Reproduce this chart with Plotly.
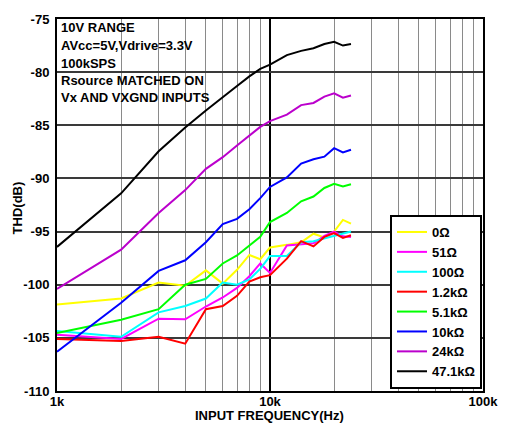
import plotly.graph_objects as go

freqs = [1000, 2000, 3000, 4000, 5000, 6000, 7000, 8000, 9000, 10000,
         12000, 14000, 16000, 18000, 20000, 22000, 24000]

thd_0 = [-101.85, -101.3, -99.8, -100.1, -98.65, -99.9, -98.6, -97.2, -97.6, -96.5,
         -96.25, -96.0, -95.2, -95.55, -95.0, -93.9, -94.25]
thd_51 = [-104.7, -105.1, -103.2, -103.25, -102.05, -101.2, -100.3, -99.2, -98.0, -98.9,
          -96.3, -96.2, -96.1, -95.4, -95.0, -95.45, -95.5]
thd_100 = [-104.35, -104.9, -102.6, -102.0, -101.3, -99.8, -100.0, -99.5, -98.5, -97.3,
           -97.3, -96.0, -95.9, -95.65, -95.4, -95.2, -95.0]
thd_1k2 = [-105.1, -105.3, -104.9, -105.55, -102.3, -102.0, -101.05, -99.7, -99.3, -99.1,
           -97.55, -95.9, -96.4, -95.5, -95.15, -95.6, -95.35]
thd_5k1 = [-104.55, -103.3, -102.3, -100.0, -99.45, -98.0, -97.25, -96.3, -95.5, -94.1,
           -93.25, -92.15, -91.7, -90.9, -90.5, -90.75, -90.55]
thd_10k = [-106.3, -101.7, -98.7, -97.7, -96.0, -94.3, -93.8, -92.9, -91.85, -90.8,
           -89.9, -88.6, -88.2, -87.95, -87.15, -87.55, -87.3]
thd_24k = [-100.4, -96.7, -93.25, -91.1, -89.1, -88.0, -86.9, -86.0, -85.15, -84.6,
           -84.0, -83.1, -82.9, -82.3, -82.0, -82.4, -82.2]
thd_47k = [-96.44, -91.4, -87.45, -85.2, -83.6, -82.4, -81.3, -80.4, -79.7, -79.3,
           -78.4, -78.0, -77.75, -77.35, -77.15, -77.5, -77.35]

series_names = ["0Ω", "51Ω", "100Ω", "1.2kΩ", "5.1kΩ", "10kΩ", "24kΩ", "47.1kΩ"]
series_values = [thd_0, thd_51, thd_100, thd_1k2, thd_5k1, thd_10k, thd_24k, thd_47k]
series_colors = ["#FFFF00", "#FF00FF", "#00FFFF", "#FF0000", "#00FF00", "#0000FF",
                 "#BB00CC", "#000000"]

x_tick_vals = [1000, 10000, 100000]
x_tick_text = ["1k", "10k", "100k"]
x_minor_vals = [2000, 3000, 4000, 5000, 6000, 7000, 8000, 9000,
                20000, 30000, 40000, 50000, 60000, 70000, 80000, 90000]
y_tick_vals = [-110, -105, -100, -95, -90, -85, -80, -75]
y_tick_text = ["-110", "-105", "-100", "-95", "-90", "-85", "-80", "-75"]

notes = ["10V RANGE", "AVcc=5V,Vdrive=3.3V", "100kSPS",
         "Rsource MATCHED ON", "Vx AND VXGND INPUTS"]

FONT = "Liberation Sans, Arial, sans-serif"

def bold(s):
    return "<b>" + s + "</b>"

fig = go.Figure()
for name, vals, col in zip(series_names, series_values, series_colors):
    fig.add_trace(go.Scatter(x=freqs, y=vals, mode="lines", name=bold(name),
                             line=dict(color=col, width=2)))

W, H = 510, 423
L, R, T, B = 57, 17, 16, 32
pw, ph = W - L - R, H - T - B

def px_to_paper_x(px):
    return (px - L) / pw

def px_to_paper_y(py):
    return (H - B - py) / ph

fig.update_layout(
    width=W, height=H,
    margin=dict(l=L, r=R, t=T, b=B),
    paper_bgcolor="white", plot_bgcolor="white",
    font=dict(family=FONT, size=13, color="black"),
    showlegend=True,
    legend=dict(x=px_to_paper_x(492), y=px_to_paper_y(389), xanchor="right", yanchor="bottom",
                bgcolor="white", bordercolor="black", borderwidth=2,
                font=dict(family=FONT, size=13, color="black"),
                itemwidth=30, tracegroupgap=0),
)

fig.update_xaxes(type="log", range=[3, 5],
                 tickmode="array", tickvals=x_tick_vals, ticktext=[bold(t) for t in x_tick_text],
                 showgrid=True, gridcolor="#000000", gridwidth=1.5,
                 minor=dict(tickmode="array", tickvals=x_minor_vals, showgrid=True,
                            gridcolor="#8a8a8a", gridwidth=1, ticks=""),
                 ticks="", showline=True, linecolor="black", linewidth=2, mirror=True,
                 ticklabelstandoff=-3,
                 tickfont=dict(family=FONT, size=13, color="black"),
                 zeroline=False)
fig.update_yaxes(range=[-110, -75], tickmode="array", tickvals=y_tick_vals,
                 ticktext=[bold(t) for t in y_tick_text],
                 showgrid=True, gridcolor="#3a3a3a", gridwidth=1.5,
                 ticks="", showline=True, linecolor="black", linewidth=2, mirror=True,
                 ticklabelstandoff=3,
                 tickfont=dict(family=FONT, size=13, color="black"),
                 zeroline=False)

note_y = [25, 43, 60.5, 77.5, 95]
for txt, yy in zip(notes, note_y):
    fig.add_annotation(text=bold(txt), xref="paper", yref="paper",
                       x=px_to_paper_x(59), y=px_to_paper_y(yy),
                       xanchor="left", yanchor="middle", showarrow=False,
                       font=dict(family=FONT, size=13, color="black"))

fig.add_annotation(text=bold("INPUT FREQUENCY(Hz)"), xref="paper", yref="paper",
                   x=px_to_paper_x(274), y=px_to_paper_y(416),
                   xanchor="center", yanchor="middle", showarrow=False,
                   font=dict(family=FONT, size=13, color="black"))
fig.add_annotation(text=bold("THD(dB)"), xref="paper", yref="paper",
                   x=px_to_paper_x(17), y=px_to_paper_y(206),
                   xanchor="center", yanchor="middle", showarrow=False, textangle=-90,
                   font=dict(family=FONT, size=13, color="black"))

fig.write_html("out.html")
